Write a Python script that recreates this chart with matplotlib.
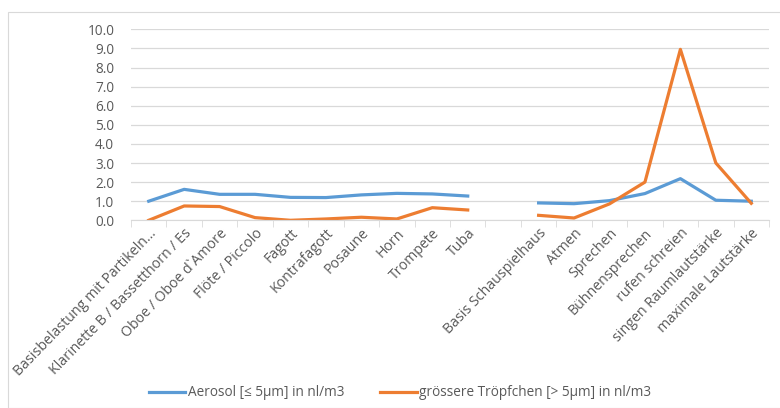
import matplotlib.pyplot as plt
import numpy as np
from matplotlib.patches import Rectangle

plt.rcParams['font.family'] = ['Open Sans', 'DejaVu Sans']

# categories (blank slot separates instruments from voice)
categories = ["Basisbelastung mit Partikeln...", "Klarinette B / Bassetthorn / Es",
              "Oboe / Oboe d`Amore", "Flöte / Piccolo", "Fagott", "Kontrafagott",
              "Posaune", "Horn", "Trompete", "Tuba", "",
              "Basis Schauspielhaus", "Atmen", "Sprechen", "Bühnensprechen",
              "rufen schreien", "singen Raumlautstärke", "maximale Lautstärke"]

aerosol = [1.0, 1.62, 1.36, 1.36, 1.2, 1.19, 1.33, 1.41, 1.38, 1.27, np.nan,
           0.91, 0.87, 1.03, 1.4, 2.18, 1.05, 1.0]
tropfen = [0.0, 0.75, 0.72, 0.14, 0.0, 0.07, 0.16, 0.07, 0.66, 0.54, np.nan,
           0.26, 0.12, 0.86, 2.0, 8.95, 3.0, 0.89]

grey = '#595959'
fs = 9.8
fig = plt.figure(figsize=(7.8, 4.08), dpi=100)
fig.patches.append(Rectangle((8/780, 0), 1, 1 - 12/408, transform=fig.transFigure,
                             fill=False, edgecolor='#d9d9d9', linewidth=0.8))
ax = fig.add_axes([131/780, 1 - 220.3/408, 638/780, 191/408])

x = np.arange(len(categories))
ax.plot(x, aerosol, color='#5B9BD5', linewidth=2.3, label='Aerosol [≤ 5µm] in nl/m3')
ax.plot(x, tropfen, color='#ED7D31', linewidth=2.3, label='grössere Tröpfchen [> 5µm] in nl/m3')

ax.set_ylim(0, 10)
ax.set_xlim(-0.5, len(categories) - 0.5)
ax.set_yticks(np.arange(0, 10.5, 1.0))
ax.set_yticklabels([f"{v:.1f}" for v in np.arange(0, 10.5, 1.0)], fontsize=fs, color=grey)
ax.yaxis.grid(True, color='#d9d9d9', linewidth=0.9)
ax.set_axisbelow(True)
ax.tick_params(axis='y', length=0, pad=12)

ax.set_xticks(x)
ax.set_xticklabels(categories, rotation=46, ha='right', va='top', rotation_mode='anchor',
                   fontsize=10.2, color=grey)
ax.set_xticks(np.arange(-0.5, len(categories) + 0.5, 1), minor=True)
ax.tick_params(axis='x', which='major', length=0, pad=4)
ax.tick_params(axis='x', which='minor', length=5, color='#d9d9d9')

for s in ['top', 'right', 'left']:
    ax.spines[s].set_visible(False)
ax.spines['bottom'].set_color('#d9d9d9')

fig.legend(loc='center', bbox_to_anchor=(0.513, 1 - 393/408), ncol=2, frameon=False,
           fontsize=fs, labelcolor=grey, handlelength=2.7, handletextpad=0.2,
           columnspacing=2.6)

fig.savefig('out.png', dpi=100)
